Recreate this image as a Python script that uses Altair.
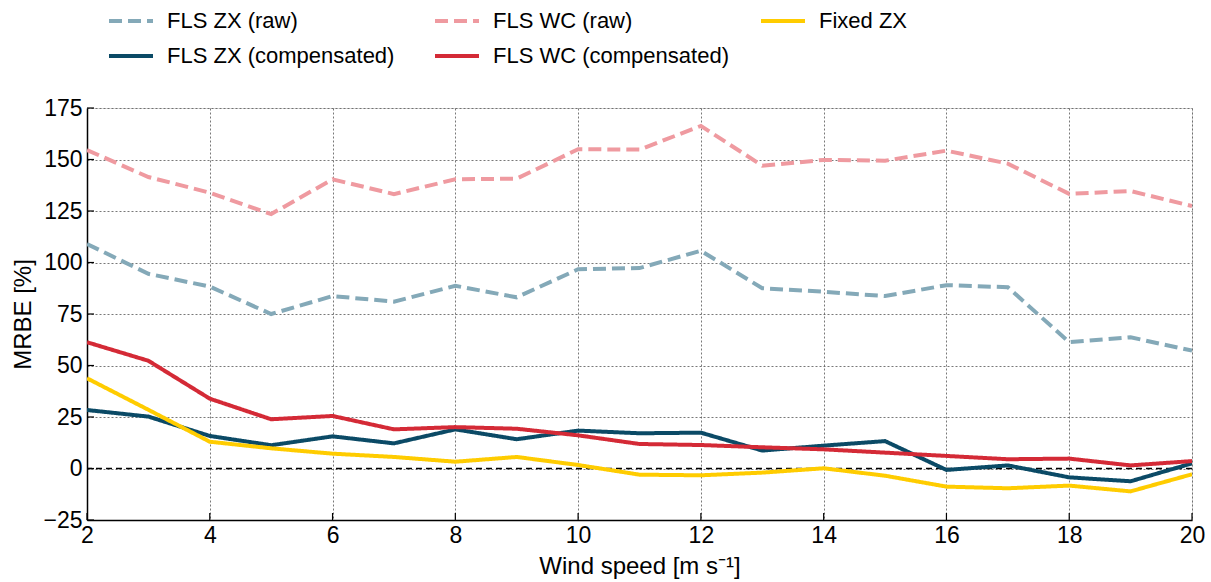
import altair as alt
import pandas as pd

# Wind speed bins [m/s]
wind_speed = list(range(2, 21))

# MRBE [%] per wind speed bin
fls_zx_raw = [109, 94.5, 88.3, 75, 83.7, 81, 88.7, 83.1, 96.7, 97.3, 105.7,
              87.5, 85.8, 83.7, 89, 88, 61.3, 63.7, 57.2]
fls_wc_raw = [154.6, 141.5, 133.9, 123.5, 140.4, 133.2, 140.4, 140.7, 155, 154.8,
              166.3, 147, 149.8, 149.4, 154.3, 148, 133.3, 134.7, 127.4]
fixed_zx = [43.8, 28.5, 13, 9.8, 7.2, 5.6, 3.3, 5.6, 1.7, -3, -3.3, -2, 0.1,
            -3.5, -8.8, -9.6, -8.3, -11.1, -2.8]
fls_zx_comp = [28.4, 25.2, 15.8, 11.3, 15.6, 12.2, 19, 14.2, 18.4, 17.1, 17.4,
               8.7, 11.1, 13.3, -0.7, 1.5, -4.3, -6.2, 2.5]
fls_wc_comp = [61.3, 52.3, 33.9, 23.9, 25.5, 19, 20.1, 19.3, 16.1, 11.9, 11.4,
               10.3, 9.3, 7.7, 6.1, 4.5, 4.8, 1.5, 3.6]

# Legend order (filled column by column, two rows)
series_names = ["FLS ZX (raw)", "FLS ZX (compensated)",
                "FLS WC (raw)", "FLS WC (compensated)", "Fixed ZX"]
series_colors = ["#84a9b8", "#0b4a66", "#ef9aa0", "#d42a36", "#ffcc00"]
series_dash = [[13, 6], [1, 0], [13, 6], [1, 0], [1, 0]]

# Drawing order: raw curves first, compensated on top, fixed ZX last
draw_order = [
    ("FLS ZX (raw)", fls_zx_raw),
    ("FLS WC (raw)", fls_wc_raw),
    ("FLS ZX (compensated)", fls_zx_comp),
    ("FLS WC (compensated)", fls_wc_comp),
    ("Fixed ZX", fixed_zx),
]

x_ticks = list(range(2, 21, 2))
y_ticks = list(range(-25, 176, 25))

rows = []
for k, (name, vals) in enumerate(draw_order):
    for ws, v in zip(wind_speed, vals):
        rows.append({"ws": ws, "mrbe": v, "series": name, "k": k})
df = pd.DataFrame(rows)

W, H = 1105, 412
FONT = "Liberation Sans"

x_scale = alt.Scale(domain=[2, 20], nice=False, zero=False)
y_scale = alt.Scale(domain=[-25, 175], nice=False, zero=False)

axis_style = dict(
    grid=True, gridColor="#555555", gridDash=[2, 2], gridWidth=0.8,
    ticks=False, labelFontSize=23, titleFontSize=24, labelFont=FONT, titleFont=FONT,
    labelColor="black", titleColor="black", titleFontWeight="normal",
    domainColor="black", domainWidth=1.5, labelFlush=False, format="d",
)
x_axis = alt.Axis(values=x_ticks, title="Wind speed [m s⁻¹]",
                  labelPadding=4, titlePadding=7, **axis_style)
y_axis = alt.Axis(values=y_ticks, title="MRBE [%]",
                  labelPadding=5, titlePadding=7, **axis_style)

legend = alt.Legend(
    title=None, orient="none", legendX=20, legendY=-111,
    columns=3, gridAlign="all", columnPadding=24, rowPadding=0,
    symbolType="stroke", symbolSize=1936, symbolStrokeWidth=4,
    labelFontSize=22, labelFont=FONT, labelColor="black", labelOffset=12,
    padding=0, offset=0, labelLimit=400,
)

lines = alt.Chart(df).mark_line(strokeWidth=4, clip=True).encode(
    x=alt.X("ws:Q", scale=x_scale, axis=x_axis),
    y=alt.Y("mrbe:Q", scale=y_scale, axis=y_axis),
    color=alt.Color("series:N", sort=series_names,
                    scale=alt.Scale(domain=series_names, range=series_colors),
                    legend=legend),
    strokeDash=alt.StrokeDash("series:N", sort=series_names,
                              scale=alt.Scale(domain=series_names, range=series_dash),
                              legend=legend),
    order=alt.Order("k:Q"),
    detail="series:N",
)

zero_df = pd.DataFrame({"y": [0]})
zero_line = alt.Chart(zero_df).mark_rule(color="black", strokeWidth=1.5,
                                         strokeDash=[6, 4]).encode(
    y=alt.Y("y:Q", scale=y_scale)
)

# Short inward tick marks on the bottom and left spines
xt = alt.Chart(pd.DataFrame({"t": x_ticks})).mark_rule(color="black", strokeWidth=1.2).encode(
    x=alt.X("t:Q", scale=x_scale),
    y=alt.value(H), y2=alt.value(H - 7),
)
yt = alt.Chart(pd.DataFrame({"t": y_ticks})).mark_rule(color="black", strokeWidth=1.2).encode(
    y=alt.Y("t:Q", scale=y_scale),
    x=alt.value(0), x2=alt.value(7),
)

chart = alt.layer(zero_line, lines, xt, yt).properties(
    width=W, height=H,
    autosize=alt.AutoSizeParams(type="none"),
    padding={"left": 87, "top": 108, "right": 19, "bottom": 62},
).configure_view(
    stroke="black", strokeWidth=1.5
).configure(background="white")

chart.save("out.html", embed_options={"renderer": "svg", "actions": False})
